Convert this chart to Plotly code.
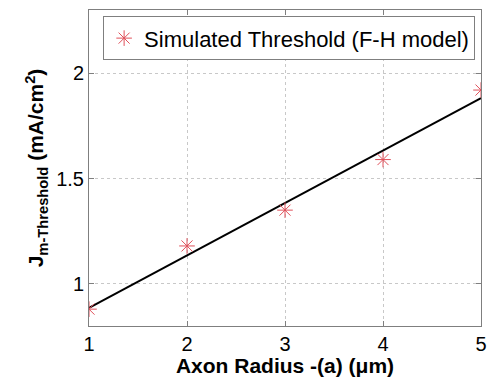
import plotly.graph_objects as go

radius = [1, 2, 3, 4, 5]
threshold = [0.88, 1.18, 1.35, 1.59, 1.92]
fit_x = [1, 5]
fit_y = [0.886, 1.882]
x_ticks = [1, 2, 3, 4, 5]
y_ticks = [1, 1.5, 2]

FONT = "Liberation Sans, Arial, Helvetica, sans-serif"

fig = go.Figure()
fig.add_trace(go.Scatter(
    x=fit_x, y=fit_y, mode="lines",
    line=dict(color="black", width=2), showlegend=False))
fig.add_trace(go.Scatter(
    x=radius, y=threshold, mode="markers",
    name="Simulated Threshold (F-H model)",
    marker=dict(symbol="asterisk-open", size=13,
                line=dict(color="#e0505a", width=1), color="#e0505a")))

axis_common = dict(
    showline=True, linecolor="#7f7f7f", linewidth=1, mirror="ticks",
    ticks="inside", ticklen=5, tickcolor="#7f7f7f",
    showgrid=True, gridcolor="#c8c8c8", griddash="dot", gridwidth=1,
    zeroline=False, tickfont=dict(size=20, color="black", family=FONT),
)

fig.update_layout(
    width=493, height=377,
    margin=dict(l=89, r=6, t=10, b=51),
    paper_bgcolor="white", plot_bgcolor="white",
    font=dict(family=FONT, color="black"),
    xaxis=dict(range=[1, 5], tickvals=x_ticks, ticktext=[str(v) for v in x_ticks],
               title=dict(text="<b>Axon Radius -(a) (μm)</b>", font=dict(size=21), standoff=0),
               **axis_common),
    yaxis=dict(range=[0.8, 2.3], tickvals=y_ticks, ticktext=["1", "1.5", "2"],
               title=dict(text="<b>J<sub>m-Threshold</sub> (mA/cm<sup>2</sup>)</b>",
                          font=dict(size=21), standoff=6),
               **axis_common),
    legend=dict(x=0.985, y=0.98, xanchor="right", yanchor="top",
                bgcolor="white", bordercolor="#7f7f7f", borderwidth=1,
                font=dict(size=22, family=FONT, color="black"),
                itemwidth=30),
)

fig.write_html("out.html")
